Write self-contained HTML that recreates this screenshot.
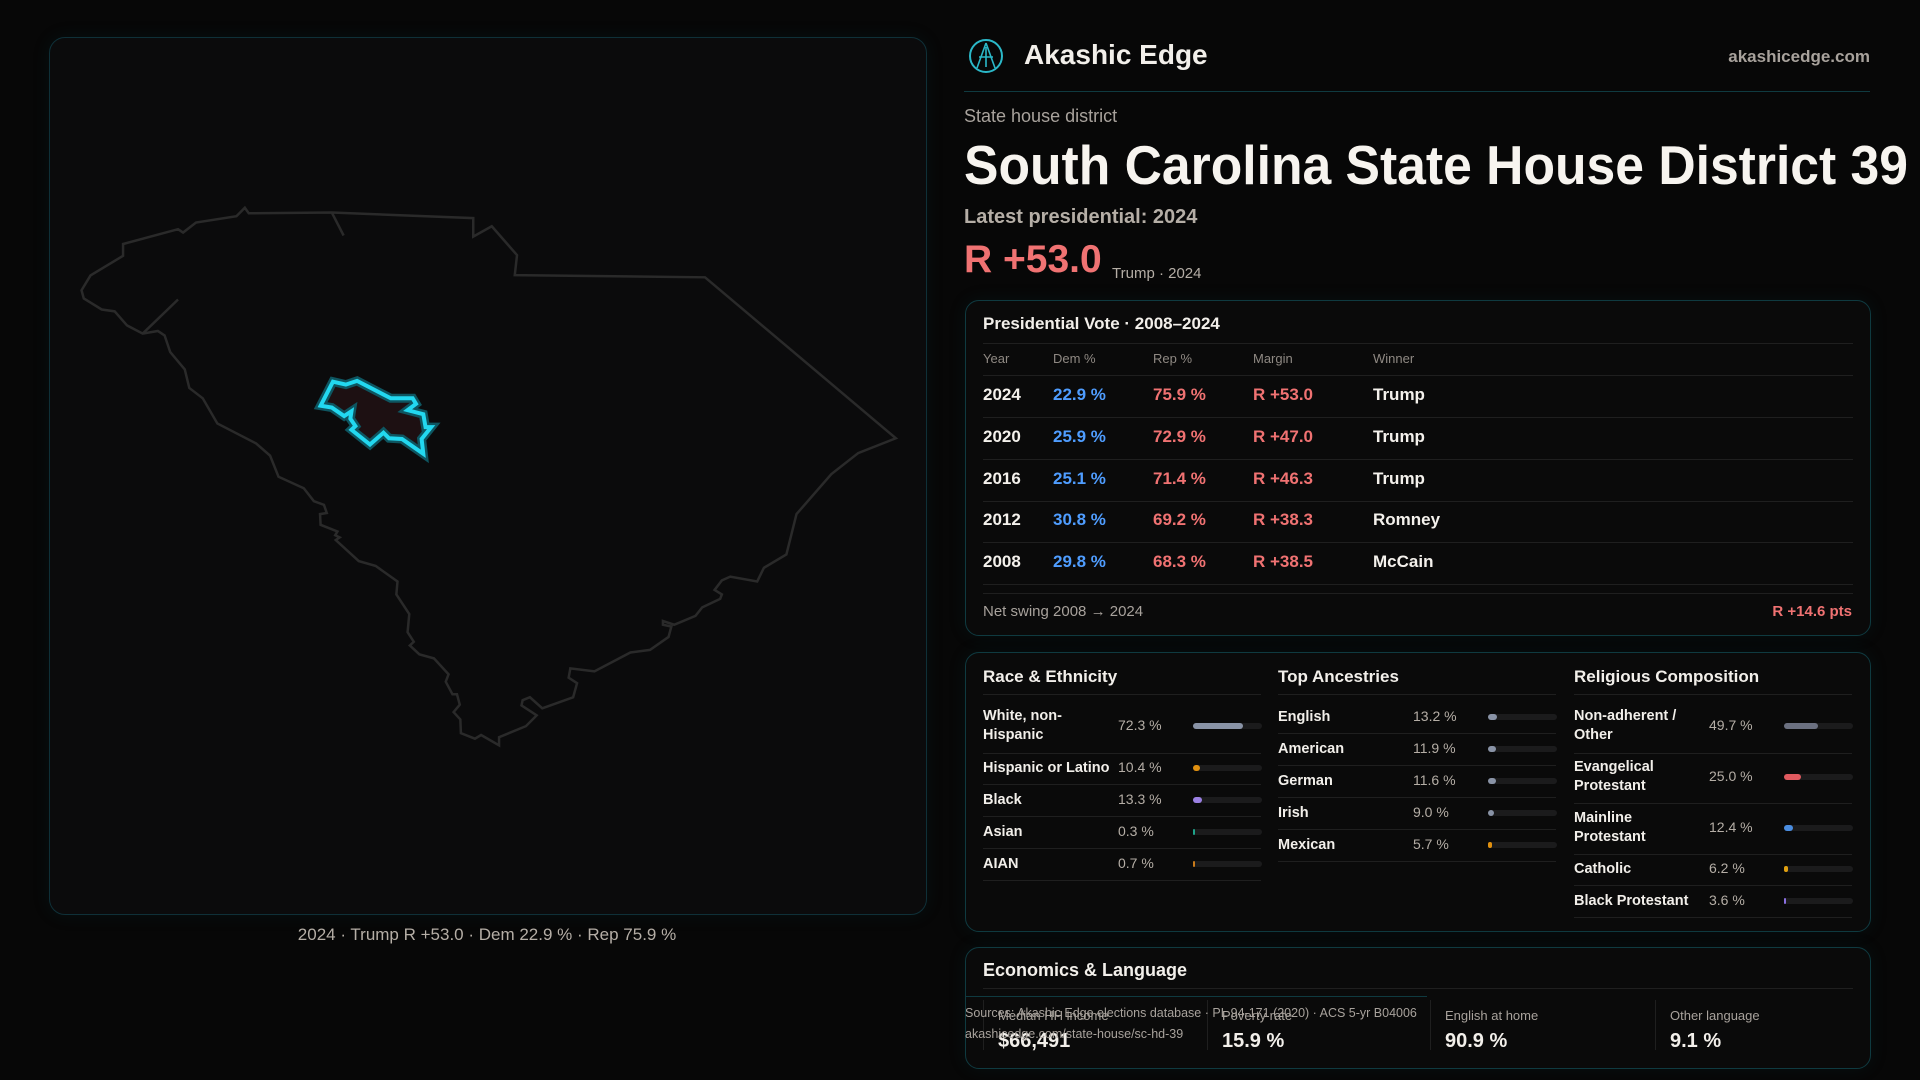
<!DOCTYPE html>
<html><head><meta charset="utf-8"><style>
*{box-sizing:border-box;margin:0;padding:0}
body{width:1920px;height:1080px;background:#070707;position:relative;overflow:hidden;font-family:"Liberation Sans",sans-serif;color:#f2efea}
.a{position:absolute;white-space:nowrap}
.card{position:absolute;border:1.5px solid #0f3a40;border-radius:14px;background:#0a0a0a;box-shadow:0 0 18px rgba(20,90,100,.12)}
.hl{position:absolute;height:1px;background:#1f1f1f}
.g{color:#a8a29c}
</style></head><body>
<div class="card" style="left:49px;top:37px;width:878px;height:878px;border-radius:16px;background:#0b0b0c;border-color:#0f3038"></div>
<svg class="a" style="left:0;top:0" width="960" height="1080">
<g transform="translate(40 180) scale(0.5612 0.3700)" fill="none" stroke="#2a2a2a" stroke-width="2.5" vector-effect="non-scaling-stroke">
<path vector-effect="non-scaling-stroke" d="M365,75 L372,90 L520,88 L772,103 L772,153 L805,125 L850,203 L846,257 L1185,263 L1525,698 L1458,738 L1410,795 L1348,903 L1330,1012 L1290,1048 L1278,1085 L1230,1072 L1215,1082 L1202,1108 L1215,1120 L1212,1132 L1180,1155 L1168,1178 L1130,1202 L1110,1192 L1110,1202 L1125,1207 L1120,1235 L1087,1270 L1052,1277 L988,1328 L945,1320 L942,1345 L957,1360 L950,1398 L895,1428 L873,1398 L860,1406 L858,1420 L885,1447 L866,1476 L818,1506 L818,1528 L786,1500 L775,1510 L750,1495 L749,1458 L737,1438 L748,1418 L743,1390 L735,1390 L723,1356 L728,1336 L702,1293 L676,1282 L659,1258 L666,1248 L655,1222 L658,1173 L635,1120 L637,1085 L598,1043 L568,1030 L527,973 L534,966 L526,960 L530,950 L500,932 L499,903 L511,900 L506,878 L488,868 L470,833 L425,802 L410,745 L385,712 L316,658 L290,590 L266,562 L258,512 L232,465 L222,420 L210,408 L183,415 L155,393 L133,355 L110,350 L78,320 L74,298 L90,258 L148,205 L148,173 L246,133 L255,142 L278,115 L350,98 Z M520,88 L541,150 M183,415 L246,323"/>
<path vector-effect="non-scaling-stroke" stroke="#0e5560" stroke-width="9" fill="#1d1012" d="M522,545 L545,553 L565,543 L625,590 L664,590 L670,605 L655,622 L683,633 L687,668 L697,668 L680,700 L683,740 L645,700 L622,698 L612,683 L588,715 L555,675 L562,665 L553,645 L555,625 L542,638 L520,615 L500,610 Z"/>
<path vector-effect="non-scaling-stroke" stroke="#22d8f0" stroke-width="4" fill="none" d="M522,545 L545,553 L565,543 L625,590 L664,590 L670,605 L655,622 L683,633 L687,668 L697,668 L680,700 L683,740 L645,700 L622,698 L612,683 L588,715 L555,675 L562,665 L553,645 L555,625 L542,638 L520,615 L500,610 Z"/>
</g></svg>
<div class="a g" style="left:0;width:974px;text-align:center;top:925px;font-size:17px;color:#b5aea6">2024 · Trump R +53.0 · Dem 22.9 % · Rep 75.9 %</div>

<svg class="a" style="left:967px;top:37px" width="38" height="38"><circle cx="19" cy="19" r="16" fill="none" stroke="#2bb8c8" stroke-width="2"/><path d="M19 6 L10 31 M19 6 L28 31 M12 20 L26 20 M19 10 L19 30" stroke="#2bb8c8" stroke-width="1.6" fill="none"/></svg>
<div class="a" style="left:1024px;top:39px;font-size:28px;font-weight:bold">Akashic Edge</div>
<div class="a" style="right:50px;top:47px;font-size:17px;font-weight:bold;color:#a8a29c">akashicedge.com</div>
<div class="hl" style="left:964px;top:91px;width:906px;background:#0f3a40"></div>
<div class="a g" style="left:964px;top:106px;font-size:18px">State house district</div>
<svg class="a" style="left:962px;top:130px" width="958" height="70"><text x="2" y="54" font-family="Liberation Sans" font-weight="bold" font-size="55" fill="#f7f4ef" textLength="944" lengthAdjust="spacingAndGlyphs">South Carolina State House District 39</text></svg>
<div class="a" style="left:964px;top:206px;font-size:20px;font-weight:bold;color:#b5aea6">Latest presidential: 2024</div>
<div class="a" style="left:964px;top:238px;font-size:39px;font-weight:bold;color:#f07272">R +53.0</div>
<div class="a g" style="left:1112px;top:265px;font-size:15px;color:#b5aea6">Trump · 2024</div>

<div class="card" style="left:965px;top:300px;width:906px;height:336px"></div>
<div class="a" style="left:983px;top:314px;font-size:17px;font-weight:bold">Presidential Vote · 2008–2024</div>
<div class="hl" style="left:983px;top:343px;width:870px"></div>
<div id="vt"></div>
<div class="hl" style="left:983px;top:593px;width:870px"></div>
<div class="a g" style="left:983px;top:603px;font-size:15px">Net swing 2008 → 2024</div>
<div class="a" style="right:68px;top:603px;font-size:15px;font-weight:bold;color:#f07272">R +14.6 pts</div>

<div class="card" style="left:965px;top:652px;width:906px;height:280px"></div>
<div id="demo"></div>

<div class="card" style="left:965px;top:947px;width:906px;height:122px"></div>
<div class="a" style="left:983px;top:960px;font-size:18px;font-weight:bold">Economics &amp; Language</div>
<div class="hl" style="left:983px;top:988px;width:870px"></div>
<div class="hl" style="left:965px;top:996px;width:462px;background:#0f3a40"></div>
<div id="econ"></div>
<div class="a" style="left:965px;top:1006px;font-size:12.5px;color:#a8a29c">Sources: Akashic Edge elections database · PL 94-171 (2020) · ACS 5-yr B04006</div>
<div class="a" style="left:965px;top:1027px;font-size:12.5px;color:#a8a29c">akashicedge.com/state-house/sc-hd-39</div>

<script>
const years=["2024","2020","2016","2012","2008"];
const demPct=[22.9,25.9,25.1,30.8,29.8];
const repPct=[75.9,72.9,71.4,69.2,68.3];
const margins=[53.0,47.0,46.3,38.3,38.5];
const winners=["Trump","Trump","Trump","Romney","McCain"];
const raceLabels=["White, non-\nHispanic","Hispanic or Latino","Black","Asian","AIAN"];
const raceValues=[72.3,10.4,13.3,0.3,0.7];
const ancLabels=["English","American","German","Irish","Mexican"];
const ancValues=[13.2,11.9,11.6,9.0,5.7];
const relLabels=["Non-adherent /\nOther","Evangelical\nProtestant","Mainline\nProtestant","Catholic","Black Protestant"];
const relValues=[49.7,25.0,12.4,6.2,3.6];
const econLabels=["Median HH income","Poverty rate","English at home","Other language"];
const econValues=["$66,491","15.9 %","90.9 %","9.1 %"];

function mk(parent,css,txt){const d=document.createElement('div');d.className='a';d.style.cssText=css;if(txt!==undefined)d.textContent=txt;parent.appendChild(d);return d;}
const vt=document.getElementById('vt');
const cols=[983,1053,1153,1253,1373];
["Year","Dem %","Rep %","Margin","Winner"].forEach((h,i)=>{
  const e=mk(vt,`left:${cols[i]}px;top:351px;font-size:13px;color:#8f8983`,h);
  
  
});
const hr=mk(vt,'left:983px;top:375px;width:870px;height:1px;background:#1f1f1f');


years.forEach((y,i)=>{
  const top=385+i*41.8;
  const vals=[y,demPct[i].toFixed(1)+" %",repPct[i].toFixed(1)+" %","R +"+margins[i].toFixed(1),winners[i]];
  const colors=["#f4f1ec","#4f9dff","#f07272","#f07272","#f4f1ec"];
  vals.forEach((v,j)=>{
    const e=mk(vt,`left:${cols[j]}px;top:${top}px;font-size:17px;font-weight:bold;color:${colors[j]}`,v);
    
    
  });
  const s=mk(vt,`left:983px;top:${top+32}px;width:870px;height:1px;background:#1f1f1f`);
  
  
});

const demo=document.getElementById('demo');
function section(title,x,labels,values,colors,rowTops,seps,valX,barX,slug){
  const t=mk(demo,`left:${x}px;top:667px;font-size:17px;font-weight:bold`,title);
  
  
  const r=mk(demo,`left:${x}px;top:694px;width:278px;height:1px;background:#1f1f1f`);
  
  
  labels.forEach((l,i)=>{
    const two=l.includes('\n');
    const c=rowTops[i];
    const lab=mk(demo,`left:${x}px;top:${c-(two?19:9)}px;font-size:14.5px;font-weight:bold;line-height:19px;white-space:pre`,l);
    
    
    const v=mk(demo,`left:${valX}px;top:${c-9}px;font-size:14px;color:#b5aea6`,values[i].toFixed(1)+" %");
    
    
    const track=mk(demo,`left:${barX}px;top:${c-3}px;width:69px;height:6px;border-radius:3px;background:#1b1b1c`);
    
    
    const fill=mk(demo,`left:${barX}px;top:${c-3}px;width:${Math.max(1.5,values[i]/100*69)}px;height:6px;border-radius:3px;background:${colors[i]}`);
    
    
    const s=mk(demo,`left:${x}px;top:${seps[i]}px;width:278px;height:1px;background:#1f1f1f`);
    
    
  });
}
section("Race & Ethnicity",983,raceLabels,raceValues,["#8993a6","#e0900f","#9b80e3","#1fa38a","#c87a1a"],[726,768,800,832,864],[753,784,816,848,880],1118,1193,'race');
section("Top Ancestries",1278,ancLabels,ancValues,["#8993a6","#8993a6","#8993a6","#8993a6","#e0900f"],[717,749,781,813,845],[733,765,797,829,861],1413,1488,'ancestry');
section("Religious Composition",1574,relLabels,relValues,["#6b7080","#e05a5f","#4a8de0","#e0a010","#8a6fe0"],[726,777,828,869,901],[753,803,854,885,917],1709,1784,'religion');

const econ=document.getElementById('econ');
const ex=[983,1207,1430,1655];
econLabels.forEach((l,i)=>{
  const d=mk(econ,`left:${ex[i]}px;top:1000px;width:1px;height:50px;background:#1f1f1f`);
  
  
  const a=mk(econ,`left:${ex[i]+15}px;top:1008px;font-size:13px;color:#a8a29c`,l);
  
  
  const b=mk(econ,`left:${ex[i]+15}px;top:1030px;font-size:20px;font-weight:bold`,econValues[i]);
  
  
});
</script>
</body></html>
